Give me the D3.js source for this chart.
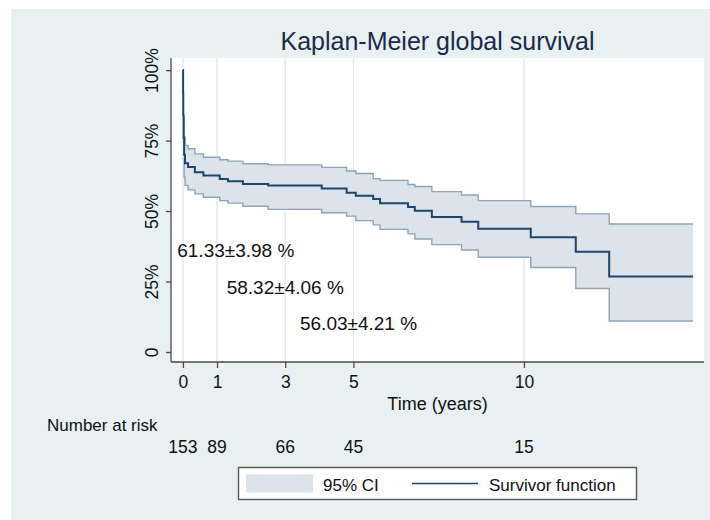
<!DOCTYPE html>
<html>
<head>
<meta charset="utf-8">
<script src="https://cdn.jsdelivr.net/npm/d3@7"></script>
<style>
  body { margin: 0; background: #fff; }
  svg { display: block; font-family: "Liberation Sans", Arial, Helvetica, sans-serif; }
</style>
</head>
<body>
<div id="chart"></div>
<script>
// Kaplan-Meier estimate (time in years, values in %)
const times    = [0, 0.005, 0.01, 0.02, 0.035, 0.06, 0.15, 0.35, 0.6, 1.08, 1.32, 1.76, 2.5, 4.07, 4.8, 5.07, 5.58, 5.78, 6.6, 6.8, 7.3, 8.17, 8.66, 10.2, 11.52, 12.5, 14.96];
const survival = [100, 92, 84, 76, 70, 67, 65.6, 63.8, 62.6, 61.4, 60.6, 59.6, 59.1, 58.0, 56.5, 55.4, 54.3, 52.8, 51.4, 50.1, 47.9, 46.2, 43.7, 40.7, 35.6, 26.8, 26.8];
const ciUpper  = [null, null, null, 83, 76.5, 73.3, 72.1, 70.3, 69.1, 68.2, 67.7, 66.8, 66.4, 65.5, 64.2, 63.3, 61.5, 60.9, 59.4, 58.7, 56.9, 55.7, 53.7, 51.6, 49.0, 45.4, 45.4];
const ciLower  = [null, null, null, 69, 62, 59.1, 57.5, 56.1, 54.9, 53.7, 52.8, 51.7, 50.6, 49.4, 48.2, 46.6, 45.1, 43.5, 41.9, 40.1, 38.1, 36.2, 33.6, 30.0, 22.5, 11.0, 11.0];

// number at risk table
const riskTimes = [0, 1, 3, 5, 10];
const atRisk    = [153, 89, 66, 45, 15];

// axis ticks
const xTicks      = [0, 1, 3, 5, 10];
const yTicks      = [0, 25, 50, 75, 100];
const yTickLabels = ["0", "25%", "50%", "75%", "100%"];

// survival estimates written on the plot
const noteLabels = ["61.33±3.98 %", "58.32±4.06 %", "56.03±4.21 %"];
const noteTimes  = [1.55, 3.0, 5.15];
const noteValues = [36, 23, 10];

const W = 710, H = 520;
const plot = { left: 171, right: 704, top: 58, bottom: 362 };
const navy = "#1c466e", bandFill = "#dde3ea", bandEdge = "#8fa4b7", txt = "#111";

const svg = d3.select("#chart").append("svg")
    .attr("width", W)
    .attr("height", H);

// graph region background
svg.append("rect")
    .attr("x", 11).attr("y", 9)
    .attr("width", W - 11).attr("height", H - 9)
    .attr("fill", "#e8f0f2");

svg.append("rect")
    .attr("x", plot.left).attr("y", plot.top)
    .attr("width", plot.right - plot.left).attr("height", plot.bottom - plot.top)
    .attr("fill", "#fff");

const x = d3.scaleLinear().domain([-0.35, 15.28]).range([plot.left, plot.right]);
const y = d3.scaleLinear().domain([-3.55, 104.3]).range([plot.bottom, plot.top]);

// vertical grid lines
svg.append("g").selectAll("line")
    .data(xTicks)
    .enter().append("line")
    .attr("x1", d => x(d)).attr("x2", d => x(d))
    .attr("y1", plot.top).attr("y2", plot.bottom)
    .attr("stroke", "#dfe9ec")
    .attr("stroke-width", 1.4);

const rows = times.map((t, i) => ({ t: t, s: survival[i], lo: ciLower[i], hi: ciUpper[i] }));
const ciRows = rows.filter(d => d.lo != null);

const band = d3.area()
    .curve(d3.curveStepAfter)
    .x(d => x(d.t))
    .y0(d => y(d.lo))
    .y1(d => y(d.hi));

svg.append("path")
    .datum(ciRows)
    .attr("d", band)
    .attr("fill", bandFill);

["lo", "hi"].forEach(k => {
    svg.append("path")
        .datum(ciRows)
        .attr("d", d3.line().curve(d3.curveStepAfter).x(d => x(d.t)).y(d => y(d[k])))
        .attr("fill", "none")
        .attr("stroke", bandEdge)
        .attr("stroke-width", 1.4);
});

svg.append("path")
    .datum(rows)
    .attr("d", d3.line().curve(d3.curveStepAfter).x(d => x(d.t)).y(d => y(d.s)))
    .attr("fill", "none")
    .attr("stroke", navy)
    .attr("stroke-width", 2);

// axes
const yAxis = svg.append("g")
    .attr("transform", "translate(" + plot.left + ",0)")
    .call(d3.axisLeft(y).tickValues(yTicks).tickSize(5).tickSizeOuter(0)
        .tickFormat((d, i) => yTickLabels[i]));
yAxis.select(".domain").attr("d", "M0," + plot.top + "V" + plot.bottom);
yAxis.selectAll("text")
    .attr("transform", "rotate(-90)")
    .attr("x", 0).attr("y", -13).attr("dy", 0)
    .attr("text-anchor", "middle")
    .attr("font-size", 17.5)
    .attr("font-family", null)
    .attr("fill", txt);

const xAxis = svg.append("g")
    .attr("transform", "translate(0," + plot.bottom + ")")
    .call(d3.axisBottom(x).tickValues(xTicks).tickSize(6).tickSizeOuter(0));
xAxis.select(".domain").attr("d", "M" + plot.left + ",0H" + plot.right);
xAxis.selectAll("text")
    .attr("y", 26).attr("dy", 0)
    .attr("font-size", 17.5)
    .attr("font-family", null)
    .attr("fill", txt);

svg.selectAll(".domain, .tick line")
    .attr("stroke", "#4a4a4a")
    .attr("stroke-width", 1.3);

// titles
svg.append("text")
    .attr("x", (plot.left + plot.right) / 2).attr("y", 50)
    .attr("text-anchor", "middle")
    .attr("font-size", 25)
    .attr("fill", "#1b2a4a")
    .text("Kaplan-Meier global survival");

svg.append("text")
    .attr("x", (plot.left + plot.right) / 2).attr("y", 410)
    .attr("text-anchor", "middle")
    .attr("font-size", 18)
    .attr("fill", txt)
    .text("Time (years)");

// estimates at 1, 3 and 5 years
svg.append("g").selectAll("text")
    .data(noteLabels)
    .enter().append("text")
    .attr("x", (d, i) => x(noteTimes[i]))
    .attr("y", (d, i) => y(noteValues[i]))
    .attr("dy", "0.35em")
    .attr("text-anchor", "middle")
    .attr("font-size", 19)
    .attr("fill", txt)
    .text(d => d);

// number at risk
svg.append("text")
    .attr("x", 47).attr("y", 431)
    .attr("font-size", 17)
    .attr("fill", txt)
    .text("Number at risk");

svg.append("g").selectAll("text")
    .data(atRisk)
    .enter().append("text")
    .attr("x", (d, i) => x(riskTimes[i]))
    .attr("y", 453)
    .attr("text-anchor", "middle")
    .attr("font-size", 17.5)
    .attr("fill", txt)
    .text(d => d);

// legend
const lg = svg.append("g");
lg.append("rect")
    .attr("x", 238.5).attr("y", 467.5)
    .attr("width", 398).attr("height", 32)
    .attr("fill", "#fff")
    .attr("stroke", "#555")
    .attr("stroke-width", 1.4);
lg.append("rect")
    .attr("x", 246).attr("y", 474.5)
    .attr("width", 67).attr("height", 18)
    .attr("fill", bandFill);
lg.append("text")
    .attr("x", 323).attr("y", 490.5)
    .attr("font-size", 17)
    .attr("fill", txt)
    .text("95% CI");
lg.append("line")
    .attr("x1", 412).attr("x2", 478)
    .attr("y1", 483.5).attr("y2", 483.5)
    .attr("stroke", navy)
    .attr("stroke-width", 1.5);
lg.append("text")
    .attr("x", 489).attr("y", 490.5)
    .attr("font-size", 17)
    .attr("fill", txt)
    .text("Survivor function");
</script>
</body>
</html>
